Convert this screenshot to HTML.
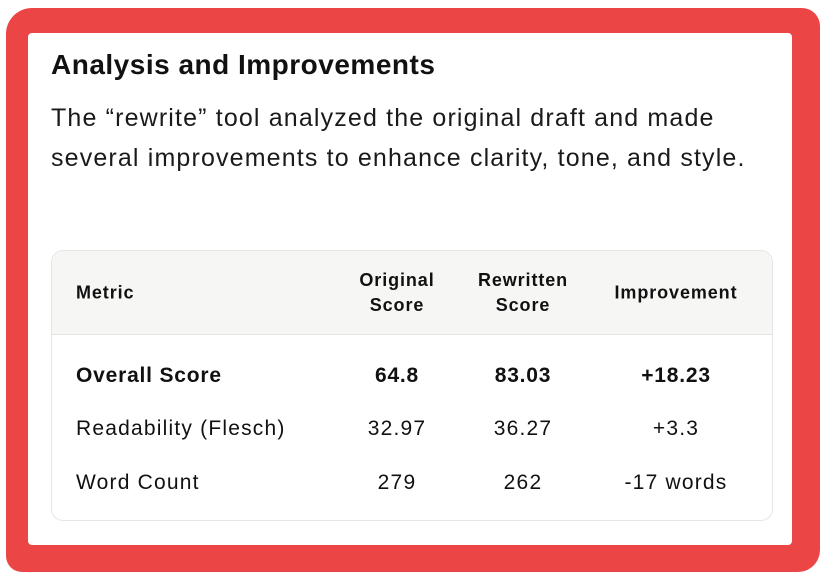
<!DOCTYPE html>
<html><head><style>
body{margin:0;width:824px;height:580px;background:#fff;position:relative;overflow:hidden;font-family:"Liberation Sans",sans-serif;color:#111;}
.frame{position:absolute;left:6px;top:8px;width:814px;height:564px;background:#ec4545;border-radius:26px 18px 22px 16px;}
.inner{position:absolute;left:28px;top:33px;width:764px;height:512px;background:#fff;border-radius:4px;}
h1{position:absolute;left:51px;top:49px;margin:0;font-size:28px;font-weight:bold;letter-spacing:0.5px;}
p{position:absolute;left:51px;top:98px;margin:0;font-size:25px;line-height:40px;color:#1a1a1a;letter-spacing:1.15px;}
.tbl{position:absolute;left:51px;top:250px;width:720px;height:269px;border:1px solid #e6e6e4;border-radius:12px;overflow:hidden;}
.hd{position:absolute;left:0;top:0;width:100%;height:83px;background:#f6f6f5;border-bottom:1px solid #e4e4e2;}
.c{position:absolute;transform:translate(-50%,-50%);text-align:center;white-space:nowrap;}
.l{position:absolute;transform:translateY(-50%);white-space:nowrap;}
.h{font-size:18px;font-weight:bold;line-height:25px;letter-spacing:0.9px;}
.r{font-size:21px;letter-spacing:1.2px;}
.b{font-weight:bold;letter-spacing:0.8px;}
</style></head><body>
<div class="frame"></div>
<div class="inner"></div>
<h1>Analysis and Improvements</h1>
<p>The “rewrite” tool analyzed the original draft and made<br>several improvements to enhance clarity, tone, and style.</p>
<div class="tbl">
<div class="hd"></div>
<div class="l h" style="left:24px;top:42px">Metric</div>
<div class="c h" style="left:345px;top:42px">Original<br>Score</div>
<div class="c h" style="left:471px;top:42px">Rewritten<br>Score</div>
<div class="c h" style="left:624px;top:42px">Improvement</div>

<div class="l r b" style="left:24px;top:125px">Overall Score</div>
<div class="c r b" style="left:345px;top:125px">64.8</div>
<div class="c r b" style="left:471px;top:125px">83.03</div>
<div class="c r b" style="left:624px;top:125px">+18.23</div>

<div class="l r" style="left:24px;top:178px">Readability (Flesch)</div>
<div class="c r" style="left:345px;top:178px">32.97</div>
<div class="c r" style="left:471px;top:178px">36.27</div>
<div class="c r" style="left:624px;top:178px">+3.3</div>

<div class="l r" style="left:24px;top:232px">Word Count</div>
<div class="c r" style="left:345px;top:232px">279</div>
<div class="c r" style="left:471px;top:232px">262</div>
<div class="c r" style="left:624px;top:232px">-17 words</div>
</div>
</body></html>
